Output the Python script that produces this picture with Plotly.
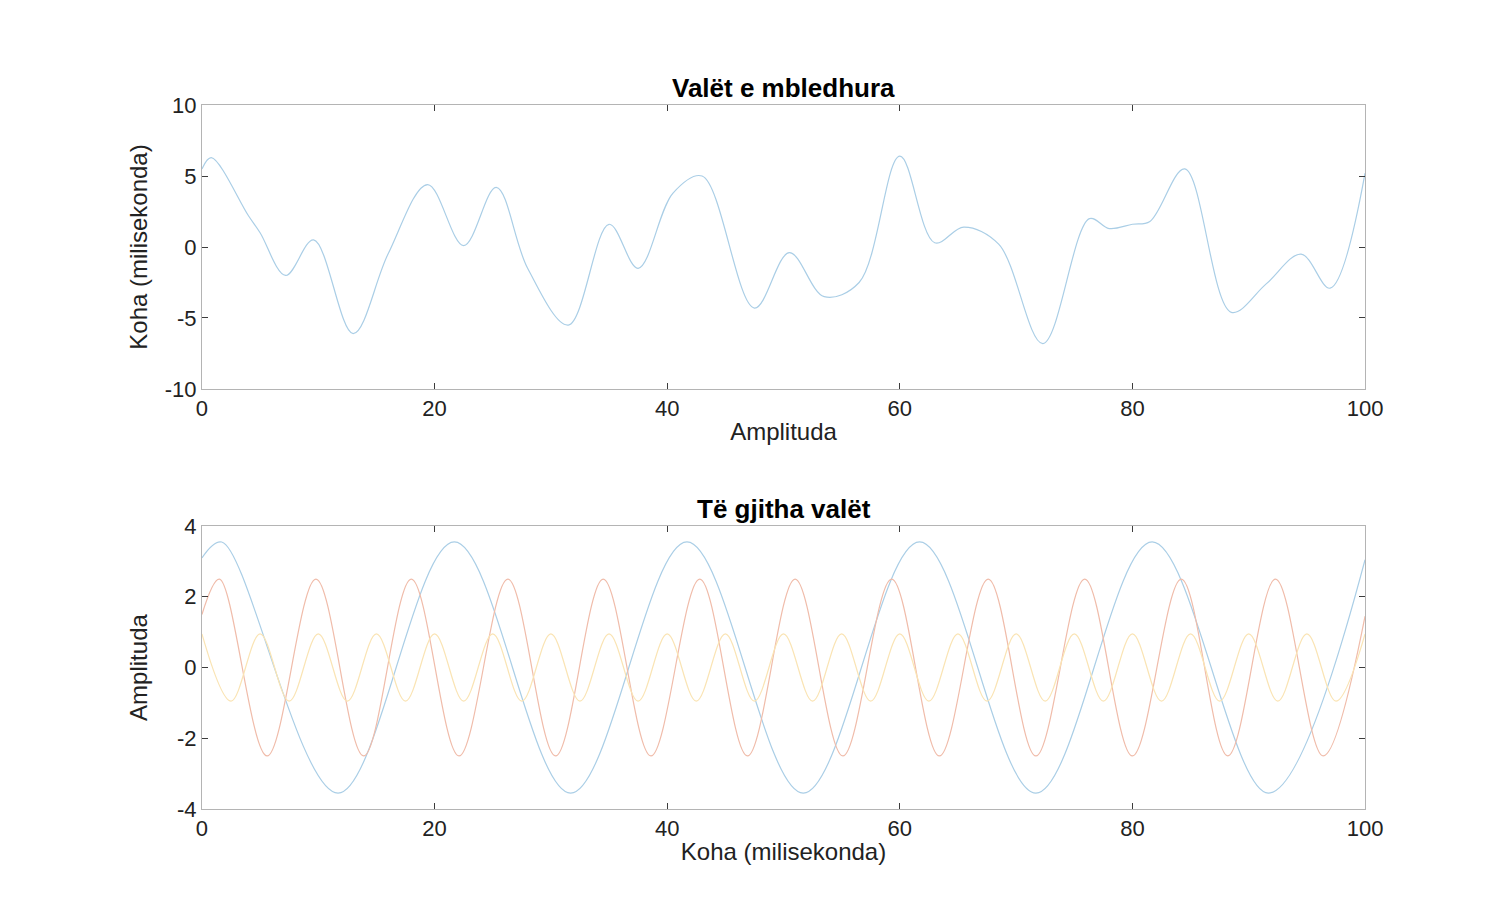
import plotly.graph_objects as go

# summed wave
sum_x = [0, 0.8, 4, 5, 7.2, 9.6, 13, 16, 19.4, 22.5, 25.3, 28, 31.5, 35, 37.5, 40.5, 43, 47.5,
         50.5, 53.5, 56.5, 60, 63, 65.5, 68.5, 72.3, 76.3, 78, 80, 81.5, 84.5, 88.5, 91.5, 94.5, 97, 100]
sum_y = [5.5, 6.3, 2.2, 1.0, -2.0, 0.5, -6.1, -0.5, 4.4, 0.1, 4.2, -1.5, -5.5, 1.6, -1.5, 3.8, 5.0, -4.3,
         -0.4, -3.5, -2.5, 6.4, 0.3, 1.4, 0.2, -6.8, 2.0, 1.3, 1.6, 1.8, 5.5, -4.6, -2.6, -0.5, -2.9, 5.2]

# individual waves (extrema)
blue_x = [0, 1.7, 11.7, 21.7, 31.7, 41.7, 51.7, 61.7, 71.7, 81.7, 91.7, 100]
blue_y = [3.1, 3.55, -3.55, 3.55, -3.55, 3.55, -3.55, 3.55, -3.55, 3.55, -3.55, 3.05]

red_x = [0, 1.5, 5.6, 9.8, 13.9, 18, 22.1, 26.3, 30.4, 34.5, 38.6, 42.8, 46.9, 51, 55.1,
         59.3, 63.4, 67.6, 71.7, 75.9, 80, 84.2, 88.2, 92.3, 96.4, 100]
red_y = [1.5, 2.5, -2.5, 2.5, -2.5, 2.5, -2.5, 2.5, -2.5, 2.5, -2.5, 2.5, -2.5, 2.5, -2.5,
         2.5, -2.5, 2.5, -2.5, 2.5, -2.5, 2.5, -2.5, 2.5, -2.5, 1.45]

yellow_x = [0, 2.5, 5, 7.5, 10, 12.5, 15, 17.5, 20, 22.5, 25, 27.5, 30, 32.5, 35, 37.5, 40, 42.5,
            45, 47.5, 50, 52.5, 55, 57.5, 60, 62.5, 65, 67.5, 70, 72.5, 75, 77.5, 80, 82.5, 85,
            87.5, 90, 92.5, 95, 97.5, 100]
yellow_y = [0.95, -0.95, 0.95, -0.95, 0.95, -0.95, 0.95, -0.95, 0.95, -0.95, 0.95, -0.95, 0.95,
            -0.95, 0.95, -0.95, 0.95, -0.95, 0.95, -0.95, 0.95, -0.95, 0.95, -0.95, 0.95, -0.95,
            0.95, -0.95, 0.95, -0.95, 0.95, -0.95, 0.95, -0.95, 0.95, -0.95, 0.95, -0.95, 0.95,
            -0.95, 0.95]

top_ticks = [-10, -5, 0, 5, 10]
bottom_ticks = [-4, -2, 0, 2, 4]
x_ticks = [0, 20, 40, 60, 80, 100]

BLUE = "rgb(170,206,230)"
RED = "rgb(240,188,170)"
YELLOW = "rgb(250,228,180)"

fig = go.Figure()
fig.add_trace(go.Scatter(x=sum_x, y=sum_y, mode="lines", line=dict(color=BLUE, width=1.2, shape="spline", smoothing=1.0),
                         xaxis="x", yaxis="y"))
for xs, ys, c in [(blue_x, blue_y, BLUE), (red_x, red_y, RED), (yellow_x, yellow_y, YELLOW)]:
    fig.add_trace(go.Scatter(x=xs, y=ys, mode="lines", line=dict(color=c, width=1.2, shape="spline", smoothing=1.0),
                             xaxis="x2", yaxis="y2"))

ax = dict(showgrid=False, zeroline=False, showline=True, mirror="ticks", linecolor="rgb(180,180,180)",
          ticks="inside", ticklen=6, tickcolor="rgb(60,60,60)", automargin=False,
          tickfont=dict(size=22, color="#222"))
xt = dict(tickvals=x_ticks, ticktext=[str(v) for v in x_ticks])
fig.update_layout(
    width=1500, height=900, showlegend=False, plot_bgcolor="white", paper_bgcolor="white",
    margin=dict(l=0, r=0, t=0, b=0, autoexpand=False), font=dict(family="Liberation Sans, Arial", color="#222"),
    xaxis=dict(ax, **xt, domain=[0.1293, 0.9047], range=[0, 100], anchor="y",
               title=dict(text="Amplituda", font=dict(size=24), standoff=2)),
    yaxis=dict(ax, domain=[0.5767, 0.8922], range=[-10, 10], anchor="x",
               tickvals=top_ticks, ticktext=[str(v) for v in top_ticks],
               title=dict(text="Koha (milisekonda)", font=dict(size=24), standoff=10)),
    xaxis2=dict(ax, **xt, domain=[0.1293, 0.9047], range=[0, 100], anchor="y2",
                title=dict(text="Koha (milisekonda)", font=dict(size=24), standoff=2)),
    yaxis2=dict(ax, domain=[0.11, 0.4244], range=[-4, 4], anchor="x2",
                tickvals=bottom_ticks, ticktext=[str(v) for v in bottom_ticks],
                title=dict(text="Amplituda", font=dict(size=24), standoff=22)),
    annotations=[
        dict(text="<b>Valët e mbledhura</b>", x=0.517, y=0.8922, xref="paper", yref="paper",
             xanchor="center", yanchor="bottom", showarrow=False, font=dict(size=26, color="black")),
        dict(text="<b>Të gjitha valët</b>", x=0.517, y=0.4244, xref="paper", yref="paper",
             xanchor="center", yanchor="bottom", showarrow=False, font=dict(size=26, color="black")),
    ],
)
fig.write_html("out.html")
